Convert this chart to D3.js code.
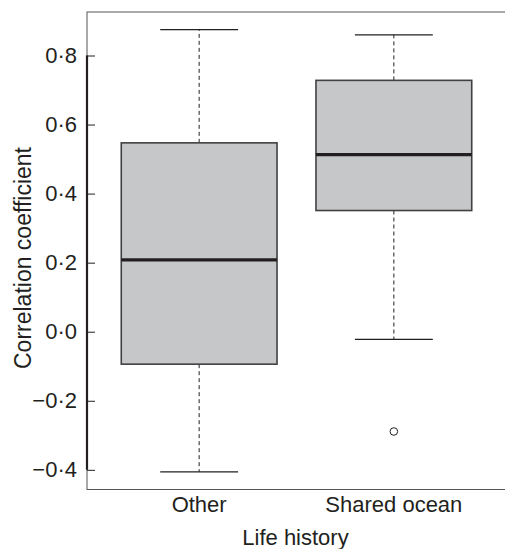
<!DOCTYPE html>
<html>
<head>
<meta charset="utf-8">
<script src="https://cdn.jsdelivr.net/npm/d3@7"></script>
<style>
body{margin:0;background:#fff}
svg text{font-family:"Liberation Sans",Arial,sans-serif;fill:#231f20}
</style>
</head>
<body>
<svg id="svg1" width="505" height="549"></svg>
<script>
var groups = ["Other","Shared ocean"]
var whiskLo = [-0.406,-0.022]
var q1 = [-0.094,0.351]
var median = [0.208,0.513]
var q3 = [0.547,0.728]
var whiskHi = [0.875,0.860]
var outliers = [[],[-0.289]]
var yTicks = [-0.4,-0.2,0,0.2,0.4,0.6,0.8]

var svg = d3.select("#svg1")
var pLeft=87, pRight=506, pTop=12, pBottom=489.5

var y = d3.scaleLinear().domain([-0.457,0.926]).range([pBottom,pTop])
var x = d3.scaleLinear().domain([0.424,2.576]).range([pLeft,pRight])
var bw = 0.4   // half box width in x units

// frame (right side runs off the picture)
svg.append("rect")
 .attr("x",pLeft).attr("y",pTop)
 .attr("width",pRight+6-pLeft).attr("height",pBottom-pTop)
 .attr("fill","none").attr("stroke","#555").attr("stroke-width",1)

var fmt = function(d){ return d3.format(".1f")(d).replace(".","·").replace("-","−").replace("−","−") }

var ax = svg.append("g")
 .attr("transform","translate("+pLeft+",0)")
 .call(d3.axisLeft(y).tickValues(yTicks).tickSizeInner(-8).tickSizeOuter(0).tickPadding(10).tickFormat(fmt))
ax.select(".domain").remove()
ax.selectAll(".tick line").attr("stroke","#231f20").attr("stroke-width",1)
ax.selectAll(".tick text").style("font-size","22px").attr("fill","#231f20")
 .style("font-family","'Liberation Sans',Arial,sans-serif")
svg.append("line")
 .attr("x1",pLeft).attr("x2",pLeft)
 .attr("y1",y(d3.max(yTicks))).attr("y2",y(d3.min(yTicks)))
 .attr("stroke","#231f20").attr("stroke-width",2.2)

groups.forEach(function(g,i){
  var cx = x(i+1)
  // whiskers
  svg.append("line").attr("x1",cx).attr("x2",cx).attr("y1",y(q3[i])).attr("y2",y(whiskHi[i]))
   .attr("stroke","#231f20").attr("stroke-dasharray","4,3")
  svg.append("line").attr("x1",cx).attr("x2",cx).attr("y1",y(q1[i])).attr("y2",y(whiskLo[i]))
   .attr("stroke","#231f20").attr("stroke-dasharray","4,3")
  svg.append("line").attr("x1",x(i+1-bw/2)).attr("x2",x(i+1+bw/2)).attr("y1",y(whiskHi[i])).attr("y2",y(whiskHi[i]))
   .attr("stroke","#231f20").attr("stroke-width",1.2)
  svg.append("line").attr("x1",x(i+1-bw/2)).attr("x2",x(i+1+bw/2)).attr("y1",y(whiskLo[i])).attr("y2",y(whiskLo[i]))
   .attr("stroke","#231f20").attr("stroke-width",1.2)
  // box
  svg.append("rect").attr("x",x(i+1-bw)).attr("width",x(i+1+bw)-x(i+1-bw))
   .attr("y",y(q3[i])).attr("height",y(q1[i])-y(q3[i]))
   .attr("fill","#c6c7c9").attr("stroke","#414042").attr("stroke-width",1.6)
  svg.append("line").attr("x1",x(i+1-bw)).attr("x2",x(i+1+bw)).attr("y1",y(median[i])).attr("y2",y(median[i]))
   .attr("stroke","#231f20").attr("stroke-width",3.2)
  outliers[i].forEach(function(o){
    svg.append("circle").attr("cx",cx).attr("cy",y(o)).attr("r",3.8)
     .attr("fill","none").attr("stroke","#231f20").attr("stroke-width",1)
  })
  svg.append("text").attr("x",cx).attr("y",512).attr("text-anchor","middle")
   .style("font-size","22px").text(g)
})

svg.append("text").attr("x",(pLeft+pRight)/2-1).attr("y",545).attr("text-anchor","middle")
 .style("font-size","22px").text("Life history")
svg.append("text").attr("transform","translate(31,258) rotate(-90)").attr("text-anchor","middle")
 .style("font-size","23px").text("Correlation coefficient")
</script>
</body>
</html>
